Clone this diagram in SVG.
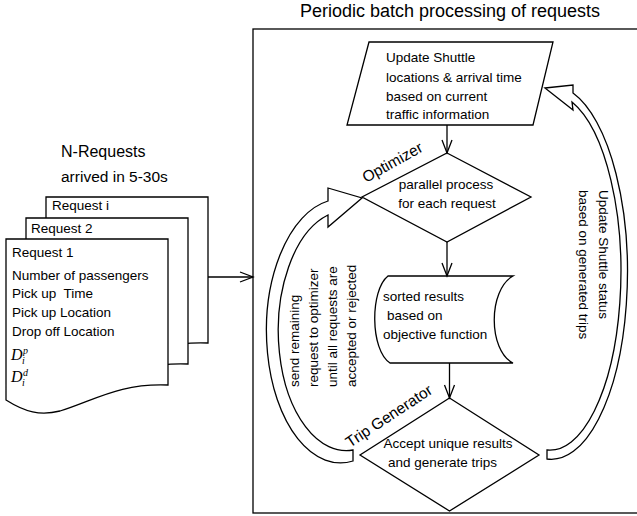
<svg xmlns="http://www.w3.org/2000/svg" width="637" height="516" viewBox="0 0 637 516">
<style>
.ln{fill:none;stroke:#000;stroke-width:1.3}
.sh{fill:#fff;stroke:#000;stroke-width:1.3;stroke-linejoin:miter}
.t{font-family:"Liberation Sans",Arial,sans-serif;font-size:13.5px;fill:#000}
.m{font-family:"Liberation Serif","Times New Roman",serif;font-style:italic;fill:#000}
</style>
<defs>
<marker id="v" markerUnits="userSpaceOnUse" markerWidth="16" markerHeight="12" refX="13" refY="5" orient="auto" overflow="visible">
<path d="M0,0 L13,5 L0,10" fill="none" stroke="#000" stroke-width="1.3"/>
</marker>
<path id="doc" d="M6,239 L168,239 L168,385 C 120,383 95,400 60,411 C 40,416 25,412 6,400 Z"/>
</defs>
<rect width="637" height="516" fill="#fff"/>

<text class="t" x="450" y="17" text-anchor="middle" style="font-size:18px">Periodic batch processing of requests</text>
<rect x="253" y="29" width="420" height="484" class="ln"/>

<g id="requests">
<text class="t" x="61" y="157" style="font-size:16px">N-Requests</text>
<text class="t" x="61" y="182" style="font-size:15.5px">arrived in 5-30s</text>
</g>
<g id="request-i">
<use href="#doc" class="sh" transform="translate(40,-42)"/>
<text class="t" x="52" y="210">Request i</text>
</g>
<g id="request-2">
<use href="#doc" class="sh" transform="translate(20,-21)"/>
<text class="t" x="31" y="233">Request 2</text>
</g>
<g id="request-1">
<use href="#doc" class="sh"/>
<text class="t" x="12" y="257">Request 1</text>
<text class="t" x="12" y="280">Number of passengers</text>
<text class="t" x="12" y="298" xml:space="preserve">Pick up  Time</text>
<text class="t" x="12" y="317">Pick up Location</text>
<text class="t" x="12" y="336">Drop off Location</text>
<text class="m" x="11" y="360" style="font-size:16px">D</text>
<text class="m" x="23" y="354" style="font-size:10px">p</text>
<text class="m" x="22" y="364" style="font-size:10px">i</text>
<text class="m" x="11" y="382" style="font-size:16px">D</text>
<text class="m" x="23" y="376" style="font-size:10px">d</text>
<text class="m" x="22" y="386" style="font-size:10px">i</text>
</g>

<g id="update-locations">
<polygon class="sh" points="369,42 553,42 533,125 347,125"/>
<text class="t" x="386" y="62">Update Shuttle</text>
<text class="t" x="386" y="81.5">locations &amp; arrival time</text>
<text class="t" x="386" y="101">based on current</text>
<text class="t" x="386" y="119">traffic information</text>
</g>

<g id="optimizer">
<polygon class="sh" points="447,153 531,197 447,242 362,197"/>
<text class="t" x="446" y="189" text-anchor="middle">parallel process</text>
<text class="t" x="447" y="208" text-anchor="middle">for each request</text>
<text class="t" transform="translate(366,183) rotate(-29)" style="font-size:15.5px">Optimizer</text>
</g>

<g id="sorted-results">
<path class="sh" d="M388,276 L513,276 C 488,290 488,350 513,363 L390,363 C 370,350 370,290 388,276 Z"/>
<text class="t" x="383" y="301">sorted results</text>
<text class="t" x="387" y="320">based on</text>
<text class="t" x="383" y="339">objective function</text>
</g>

<g id="trip-generator">
<polygon class="sh" points="449.5,398 539,455 449.5,511 360,455"/>
<text class="t" x="448" y="448" text-anchor="middle">Accept unique results</text>
<text class="t" x="442.5" y="467" text-anchor="middle">and generate trips</text>
<text class="t" transform="translate(350,448) rotate(-33.5)" style="font-size:15.5px">Trip Generator</text>
</g>

<g id="connectors">
<line class="ln" x1="208" y1="277" x2="253" y2="277" marker-end="url(#v)"/>
<line class="ln" x1="447" y1="125" x2="447" y2="153" marker-end="url(#v)"/>
<line class="ln" x1="447" y1="242" x2="447" y2="276" marker-end="url(#v)"/>
<line class="ln" x1="449.5" y1="363" x2="449.5" y2="398" marker-end="url(#v)"/>
<path class="sh" d="M328,188 L362,198 L328,227 L328,215 A68,120 0 0 0 353,450 L353,461 A73,130 0 0 1 328,201 Z"/>
<path class="sh" d="M545,88 L573,85 L573,93 A76,187 0 0 1 547,459 L547,450 A71,178.5 0 0 0 572,102 L573,110 Z"/>
<text class="t" transform="translate(299,387) rotate(-90)">send remaining</text>
<text class="t" transform="translate(318,387) rotate(-90)">request to optimizer</text>
<text class="t" transform="translate(337,387) rotate(-90)">until all requests are</text>
<text class="t" transform="translate(356,387) rotate(-90)">accepted or rejected</text>
<text class="t" transform="translate(599,190) rotate(90)">Update Shuttle status</text>
<text class="t" transform="translate(578.5,190) rotate(90)">based on generated trips</text>
</g>
</svg>
